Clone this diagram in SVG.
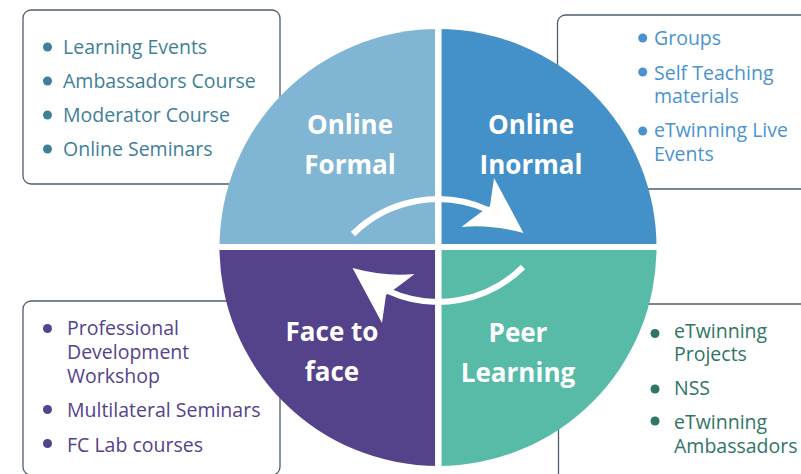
<svg xmlns="http://www.w3.org/2000/svg" width="801" height="474" viewBox="0 0 801 474">
<style>
.box{fill:#fff;stroke:#4f5d6c;stroke-width:1.3}
.item{font-family:"Open Sans","Noto Sans",sans-serif;font-size:19.5px}
.lbl{font-family:"Open Sans","Noto Sans",sans-serif;font-size:26px;font-weight:bold;fill:#fff;text-anchor:middle}
.c1{fill:#3e8098}.c2{fill:#4a93cf}.c3{fill:#54428c}.c4{fill:#2f7566}
.sep{stroke:#fff;fill:none}
.shaft{fill:none;stroke:#fff;stroke-width:6}
.head{fill:#fff}
</style>
<rect width="801" height="474" fill="#fff"/>
<g id="box-online-formal">
<rect class="box" x="23" y="10" width="257" height="174" rx="8"/>
<g class="c1">
<circle cx="47.5" cy="47" r="4.5"/><circle cx="47.5" cy="81" r="4.5"/><circle cx="47.5" cy="115" r="4.5"/><circle cx="47.5" cy="149" r="4.5"/>
<text class="item" x="63" y="54.3">Learning Events</text>
<text class="item" x="63" y="88.3">Ambassadors Course</text>
<text class="item" x="63" y="122.3">Moderator Course</text>
<text class="item" x="63" y="156.3">Online Seminars</text>
</g>
</g>
<g id="box-online-informal">
<rect class="box" x="557.5" y="15" width="260" height="174" rx="8"/>
<g class="c2">
<circle cx="642.7" cy="38" r="4.5"/><circle cx="642.7" cy="72" r="4.5"/><circle cx="642.7" cy="131" r="4.5"/>
<text class="item" x="654" y="45">Groups</text>
<text class="item" x="654" y="79.5">Self Teaching</text>
<text class="item" x="654" y="103">materials</text>
<text class="item" x="654" y="137">eTwinning Live</text>
<text class="item" x="654" y="160.5">Events</text>
</g>
</g>
<g id="box-face-to-face">
<rect class="box" x="23" y="301" width="257" height="174" rx="8"/>
<g class="c3">
<circle cx="47.5" cy="328.5" r="4.5"/><circle cx="47.5" cy="409.5" r="4.5"/><circle cx="47.5" cy="443.5" r="4.5"/>
<text class="item" x="67" y="335">Professional</text>
<text class="item" x="67" y="359">Development</text>
<text class="item" x="67" y="383.3">Workshop</text>
<text class="item" x="67" y="417.3">Multilateral Seminars</text>
<text class="item" x="67" y="451.5">FC Lab courses</text>
</g>
</g>
<g id="box-peer-learning">
<rect class="box" x="558.5" y="304" width="260" height="190" rx="8"/>
<g class="c4">
<circle cx="655" cy="333.5" r="4.5"/><circle cx="655" cy="389" r="4.5"/><circle cx="655" cy="421" r="4.5"/>
<text class="item" x="674" y="337.5">eTwinning</text>
<text class="item" x="674" y="361">Projects</text>
<text class="item" x="674" y="395">NSS</text>
<text class="item" x="674" y="429">eTwinning</text>
<text class="item" x="674" y="452.7">Ambassadors</text>
</g>
</g>
<g id="q-online-formal">
<path d="M438,247.5 L219.5,247.5 A218.5,218.5 0 0 1 438,29 Z" fill="#80b6d3"/>
<text class="lbl" x="350" y="134">Online</text>
<text class="lbl" x="350" y="174">Formal</text>
</g>
<g id="q-online-informal">
<path d="M438,247.5 L438,29 A218.5,218.5 0 0 1 656.5,247.5 Z" fill="#4391c8"/>
<text class="lbl" x="531" y="134">Online</text>
<text class="lbl" x="531" y="174">Inormal</text>
</g>
<g id="q-face-to-face">
<path d="M438,247.5 L438,466 A218.5,218.5 0 0 1 219.5,247.5 Z" fill="#54428b"/>
<text class="lbl" x="332" y="341">Face to</text>
<text class="lbl" x="332" y="381">face</text>
</g>
<g id="q-peer-learning">
<path d="M438,247.5 L656.5,247.5 A218.5,218.5 0 0 1 438,466 Z" fill="#57bba8"/>
<text class="lbl" x="518" y="341.5">Peer</text>
<text class="lbl" x="518" y="381.5">Learning</text>
</g>
<g id="separators">
<line class="sep" x1="438.3" y1="24" x2="438.3" y2="471" stroke-width="6.5"/>
<line class="sep" x1="214" y1="247" x2="662" y2="247" stroke-width="6"/>
</g>
<g id="connectors">
<g id="arrow-top">
<path class="shaft" d="M353,234 A121,121 0 0 1 488,210"/>
<path class="head" d="M494,178 L523.5,233 Q490,224 461.5,227 Q478,214 490,206 Z"/>
</g>
<g id="arrow-bottom" transform="rotate(180 438 250.5)">
<path class="shaft" d="M353,234 A121,121 0 0 1 488,210"/>
<path class="head" d="M494,178 L523.5,233 Q490,224 461.5,227 Q478,214 490,206 Z"/>
</g>
</g>
</svg>
